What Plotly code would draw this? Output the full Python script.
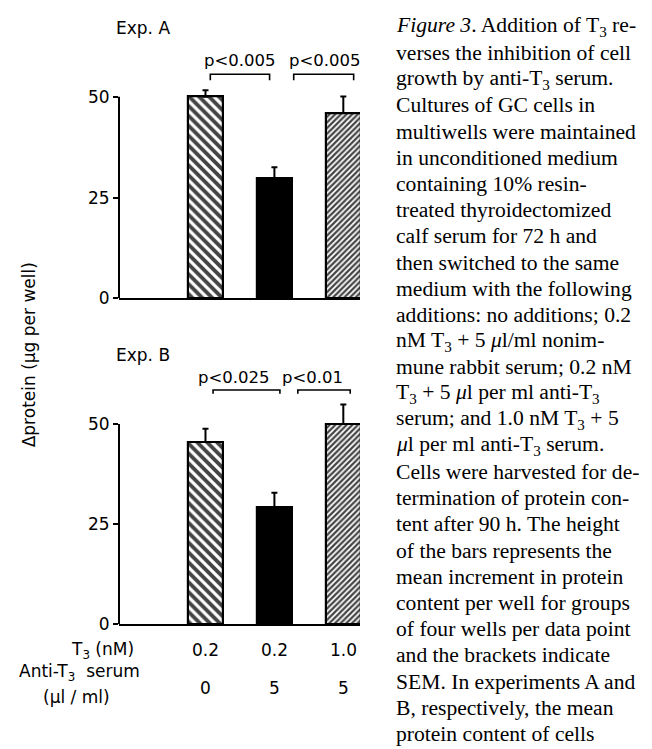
import plotly.graph_objects as go

# ---------------- data ----------------
t3_nM = ["0.2", "0.2", "1.0"]
anti_t3_serum = ["0", "5", "5"]
expA_mean = [50.0, 29.8, 46.0]
expA_sem = [1.6, 2.7, 4.1]
expB_mean = [45.5, 29.2, 50.0]
expB_sem = [3.3, 3.6, 4.9]
y_ticks = [0, 25, 50]
expA_pvalues = ["p<0.005", "p<0.005"]
expB_pvalues = ["p<0.025", "p<0.01"]
panel_titles = ["Exp. A", "Exp. B"]
y_title = "Δprotein (μg per well)"

caption_lines = [
    "<i>Figure 3</i>. Addition of T<sub>3</sub> re-",
    "verses the inhibition of cell",
    "growth by anti-T<sub>3</sub> serum.",
    "Cultures of GC cells in",
    "multiwells were maintained",
    "in unconditioned medium",
    "containing 10% resin-",
    "treated thyroidectomized",
    "calf serum for 72 h and",
    "then switched to the same",
    "medium with the following",
    "additions: no additions; 0.2",
    "nM T<sub>3</sub> + 5 <i>μ</i>l/ml nonim-",
    "mune rabbit serum; 0.2 nM",
    "T<sub>3</sub> + 5 <i>μ</i>l per ml anti-T<sub>3</sub>",
    "serum; and 1.0 nM T<sub>3</sub> + 5",
    "<i>μ</i>l per ml anti-T<sub>3</sub> serum.",
    "Cells were harvested for de-",
    "termination of protein con-",
    "tent after 90 h. The height",
    "of the bars represents the",
    "mean increment in protein",
    "content per well for groups",
    "of four wells per data point",
    "and the brackets indicate",
    "SEM. In experiments A and",
    "B, respectively, the mean",
    "protein content of cells",
]

# ---------------- layout constants ----------------
W, H = 652, 749
SANS = "DejaVu Sans"
SERIF = "Liberation Serif"
FS = 17


def px_x(p):
    return p / W


def px_y(p):
    return 1 - p / H


x_pos = [0, 1, 2]
x_range = [-1.255, 2.242]
x_dom = [px_x(111), px_x(352)]
yA_dom = [px_y(294.3), px_y(28.7)]
yB_dom = [px_y(624.3), px_y(360.9)]
y_range = [0, 65]

fig = go.Figure()

bar_style = dict(
    width=0.51,
    marker=dict(
        color=["white", "black", "white"],
        line=dict(color="black", width=2.2),
        pattern=dict(
            shape=["\\", "", "/"],
            size=[7, 8, 4],
            solidity=[0.55, 0.5, 0.55],
            fgcolor="black",
            bgcolor="white",
            fgopacity=1,
        ),
    ),
    cliponaxis=False,
    showlegend=False,
    hoverinfo="skip",
)

for means, sems, xa, ya in [(expA_mean, expA_sem, "x", "y"), (expB_mean, expB_sem, "x2", "y2")]:
    fig.add_trace(go.Bar(
        x=x_pos, y=means, xaxis=xa, yaxis=ya,
        error_y=dict(type="data", array=sems, arrayminus=[0] * len(sems), symmetric=False,
                     color="black", thickness=2, width=3),
        **bar_style,
    ))

# brackets (geometry of the hand-drawn brackets)
bracketsA = [(0.07, 0.93, 55.6, 54.1, 0.50, 59.0), (1.28, 2.15, 55.6, 54.1, 1.73, 59.0)]
bracketsB = [(0.11, 1.08, 58.5, 57.6, 0.41, 61.7), (1.34, 2.10, 58.5, 57.6, 1.55, 61.7)]

annotations = []
for brs, labels, xa, ya in [(bracketsA, expA_pvalues, "x", "y"), (bracketsB, expB_pvalues, "x2", "y2")]:
    for (x0, x1, ytop, yleg, xt, yt), lab in zip(brs, labels):
        fig.add_trace(go.Scatter(
            x=[x0, x0, x1, x1], y=[yleg, ytop, ytop, yleg], xaxis=xa, yaxis=ya,
            mode="lines", line=dict(color="black", width=1.6),
            showlegend=False, hoverinfo="skip", cliponaxis=False,
        ))
        annotations.append(dict(
            x=xt, y=yt, xref=xa, yref=ya, text=lab.replace("<", "&lt;"),
            showarrow=False, xanchor="center", yanchor="middle",
            font=dict(family=SANS, size=16.5, color="black"),
        ))

# panel titles
for title, py in zip(panel_titles, [20, 352]):
    annotations.append(dict(
        x=px_x(106), y=px_y(py), xref="paper", yref="paper", text=title,
        showarrow=False, xanchor="left", yanchor="middle",
        font=dict(family=SANS, size=FS, color="black"),
    ))

# y-axis title
annotations.append(dict(
    x=px_x(21), y=px_y(352), xref="paper", yref="paper", text=y_title,
    textangle=-90, showarrow=False, xanchor="center", yanchor="middle",
    font=dict(family=SANS, size=FS, color="black"),
))

# condition rows
annotations.append(dict(
    x=px_x(94), y=px_y(651), xref="paper", yref="paper", text="T<sub>3</sub> (nM)",
    showarrow=False, xanchor="center", yanchor="middle",
    font=dict(family=SANS, size=FS, color="black"),
))
annotations.append(dict(
    x=px_x(71), y=px_y(673), xref="paper", yref="paper", text="Anti-T<sub>3</sub>  serum",
    showarrow=False, xanchor="center", yanchor="middle",
    font=dict(family=SANS, size=FS, color="black"),
))
annotations.append(dict(
    x=px_x(68), y=px_y(698), xref="paper", yref="paper", text="(μl / ml)",
    showarrow=False, xanchor="center", yanchor="middle",
    font=dict(family=SANS, size=FS, color="black"),
))
for xp, t3, anti in zip(x_pos, t3_nM, anti_t3_serum):
    annotations.append(dict(
        x=xp, y=px_y(651), xref="x2", yref="paper", text=t3,
        showarrow=False, xanchor="center", yanchor="middle",
        font=dict(family=SANS, size=FS, color="black"),
    ))
    annotations.append(dict(
        x=xp, y=px_y(689), xref="x2", yref="paper", text=anti,
        showarrow=False, xanchor="center", yanchor="middle",
        font=dict(family=SANS, size=FS, color="black"),
    ))

# caption
for i, line in enumerate(caption_lines):
    annotations.append(dict(
        x=px_x(388), y=px_y(19 + i * 26.55), xref="paper", yref="paper", text=line,
        showarrow=False, xanchor="left", yanchor="middle", borderpad=0, borderwidth=0,
        font=dict(family=SERIF, size=21.6, color="black"),
    ))

xaxis_style = dict(
    domain=x_dom, range=x_range, showline=True, linecolor="black", linewidth=2,
    showticklabels=False, ticks="", showgrid=False, zeroline=False, fixedrange=True,
)
yaxis_style = dict(
    range=y_range, tickvals=y_ticks, ticks="outside", ticklen=5, tickwidth=2,
    tickcolor="black", showline=False, showgrid=False, zeroline=False,
    tickfont=dict(family=SANS, size=FS, color="black"), fixedrange=True,
)

shapes = []
for xa, ya in [("x", "y"), ("x2", "y2")]:
    shapes.append(dict(
        type="line", xref=f"{xa} domain", yref=ya, x0=0, x1=0, y0=0, y1=max(y_ticks),
        line=dict(color="black", width=2),
    ))

fig.update_layout(
    width=W, height=H,
    margin=dict(l=0, r=0, t=0, b=0),
    paper_bgcolor="white", plot_bgcolor="white",
    showlegend=False,
    xaxis=dict(**xaxis_style, anchor="y"),
    yaxis=dict(**yaxis_style, domain=yA_dom, anchor="x"),
    xaxis2=dict(**xaxis_style, anchor="y2"),
    yaxis2=dict(**yaxis_style, domain=yB_dom, anchor="x2"),
    annotations=annotations,
    shapes=shapes,
    bargap=0,
)

fig.write_html("out.html")
